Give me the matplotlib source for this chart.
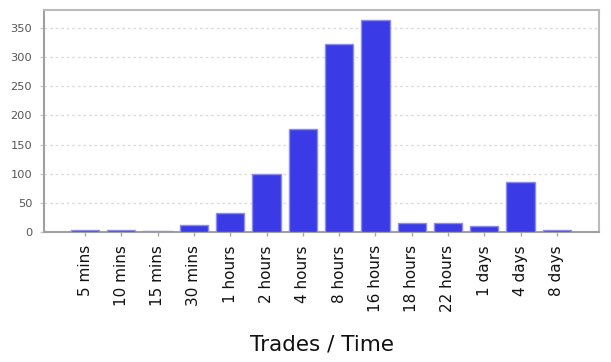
import matplotlib
matplotlib.use("Agg")
import matplotlib.pyplot as plt

categories = ["5 mins", "10 mins", "15 mins", "30 mins", "1 hours", "2 hours",
              "4 hours", "8 hours", "16 hours", "18 hours", "22 hours",
              "1 days", "4 days", "8 days"]
values = [4, 4, 1, 12, 33, 100, 176, 322, 363, 15, 15, 11, 86, 4]
y_ticks = [0, 50, 100, 150, 200, 250, 300, 350]

plt.rcParams['font.family'] = ['DejaVu Sans']

fig = plt.figure(figsize=(6.11, 3.62), dpi=100)
ax = fig.add_axes([44/611, 130/362, 555/611, 222/362])

x = list(range(len(categories)))
ax.bar(x, values, width=0.78, color="#3a3ae6", edgecolor="#8c8cf0",
       linewidth=1.0, zorder=3)

ax.set_xlim(-1.13, 14.16)
ax.set_ylim(0, 381)
ax.set_yticks(y_ticks)
ax.set_yticklabels([str(v) for v in y_ticks], fontsize=8.2, color="#555555")
ax.set_xticks(x)
ax.set_xticklabels(categories, rotation=90, fontsize=11, color="#111111")
ax.yaxis.grid(True, linestyle=(0, (2, 2)), color="#dcdcdc", linewidth=1.0, zorder=0)
ax.set_axisbelow(True)

ax.tick_params(axis="y", length=3, width=1, color="#cccccc", pad=5.5)
ax.tick_params(axis="x", length=3, width=1, color="#aaaaaa", pad=6.5)

for side in ["top", "right"]:
    ax.spines[side].set_color("#bbbbbb")
    ax.spines[side].set_linewidth(1.5)
for side in ["left", "bottom"]:
    ax.spines[side].set_color("#a0a0a0")
    ax.spines[side].set_linewidth(1.5)

ax.set_xlabel("Trades / Time", fontsize=15.5, color="#111111", labelpad=16)

fig.savefig("out.png", dpi=100, facecolor="white")
